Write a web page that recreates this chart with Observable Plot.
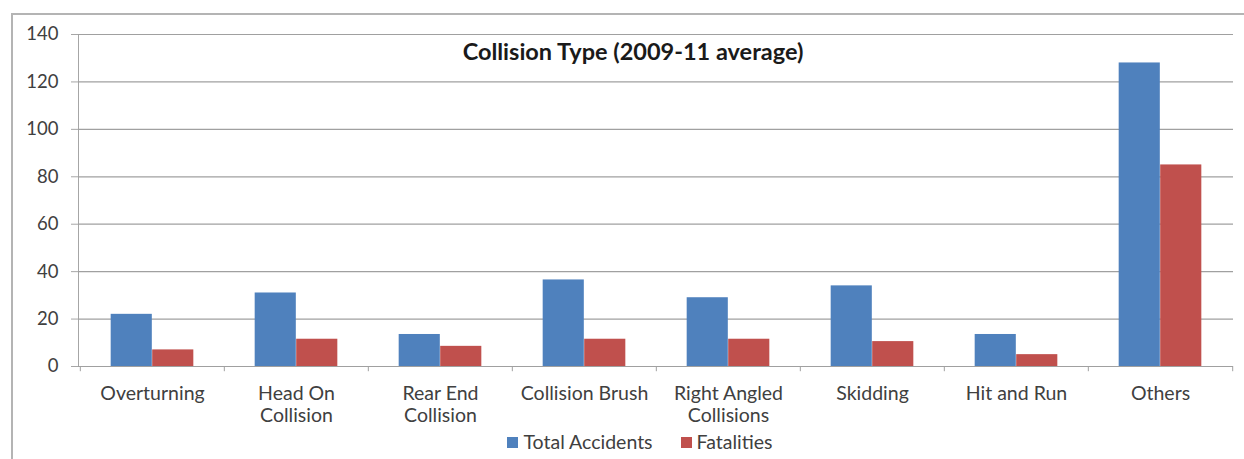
<!DOCTYPE html>
<html>
<head>
<meta charset="utf-8">
<script src="https://cdn.jsdelivr.net/npm/d3@7"></script>
<script src="https://cdn.jsdelivr.net/npm/@observablehq/plot@0.6"></script>
<style>
  html, body { margin: 0; padding: 0; background: #fff; }
  #wrap { position: relative; width: 1244px; height: 459px; overflow: hidden; font-family: Lato, "Liberation Sans", sans-serif; }
  #frame { position: absolute; left: 11px; top: 13px; right: -4px; bottom: -4px; border-left: 2px solid #b4b4b4; border-top: 2px solid #b4b4b4; pointer-events: none; }
  #title { position: absolute; left: 0; width: 1266px; top: 37px; line-height: 29px; text-align: center; font-weight: bold; font-size: 23.5px; color: #1a1a1a; }
  #legend { position: absolute; left: 0; width: 1280px; top: 430px; line-height: 24px; display: flex; justify-content: center; gap: 28px; font-size: 19.5px; color: #404040; }
  #legend span.item { display: inline-flex; align-items: center; gap: 5px; }
  #legend span.sw { display: inline-block; width: 11px; height: 11px; }
  #chart svg text { fill: #404040; }
</style>
</head>
<body>
<div id="wrap">
  <div id="chart"></div>
  <div id="frame"></div>
  <div id="title"></div>
  <div id="legend"></div>
</div>
<script>
const title = "Collision Type (2009-11 average)";
const categories = ["Overturning", "Head On Collision", "Rear End Collision", "Collision Brush", "Right Angled Collisions", "Skidding", "Hit and Run", "Others"];
const categoryLabels = ["Overturning", "Head On\nCollision", "Rear End\nCollision", "Collision Brush", "Right Angled\nCollisions", "Skidding", "Hit and Run", "Others"];
const seriesNames = ["Total Accidents", "Fatalities"];
const totalAccidents = [22, 31, 13.5, 36.5, 29, 34, 13.5, 128];
const fatalities = [7, 11.5, 8.5, 11.5, 11.5, 10.5, 5, 85];
const yTicks = [0, 20, 40, 60, 80, 100, 120, 140];
const colors = ["#4f81bd", "#c0504d"];

const W = 1244, H = 459, mL = 78, mR = 11, mT = 34, mB = 93;
const bw = (W - mL - mR) / categories.length;
const barW = bw * 0.2875;

const rows = categories.map((c, i) => ({category: c, label: categoryLabels[i], total: totalAccidents[i], fatal: fatalities[i]}));

const chart = Plot.plot({
  width: W, height: H,
  marginLeft: mL, marginRight: mR, marginTop: mT, marginBottom: mB,
  style: {fontFamily: "Lato, 'Liberation Sans', sans-serif", fontSize: "18.5px", color: "#a6a6a6", background: "transparent"},
  x: {domain: categories, type: "band", padding: 0, axis: null},
  y: {domain: [0, 140], ticks: yTicks, tickSize: 7, tickPadding: 13, line: true, label: null, tickFormat: d => String(d)},
  marks: [
    Plot.ruleY(yTicks.filter(d => d > 0), {stroke: "#a0a0a0", strokeWidth: 1.2}),
    Plot.barY(rows, {x: "category", y: "total", fill: colors[0], insetLeft: bw / 2 - barW, insetRight: bw / 2}),
    Plot.barY(rows, {x: "category", y: "fatal", fill: colors[1], insetLeft: bw / 2, insetRight: bw / 2 - barW}),
    Plot.ruleY([0], {stroke: "#a0a0a0", strokeWidth: 1.2}),
    Plot.ruleX(rows, {x: "category", y1: 0, y2: -2.2, dx: -bw / 2, stroke: "#a0a0a0"}),
    Plot.ruleX(rows.slice(-1), {x: "category", y1: 0, y2: -2.2, dx: bw / 2, stroke: "#a0a0a0"}),
    Plot.text(rows, {x: "category", text: "label", frameAnchor: "bottom", lineAnchor: "top", dy: 18, lineHeight: 1.13, fontSize: 19.5})
  ]
});
document.getElementById("chart").appendChild(chart);
document.getElementById("title").textContent = title;
const legend = document.getElementById("legend");
seriesNames.forEach((s, i) => {
  const item = document.createElement("span");
  item.className = "item";
  const sw = document.createElement("span");
  sw.className = "sw";
  sw.style.background = colors[i];
  const t = document.createElement("span");
  t.textContent = s;
  item.appendChild(sw);
  item.appendChild(t);
  legend.appendChild(item);
});
</script>
</body>
</html>
